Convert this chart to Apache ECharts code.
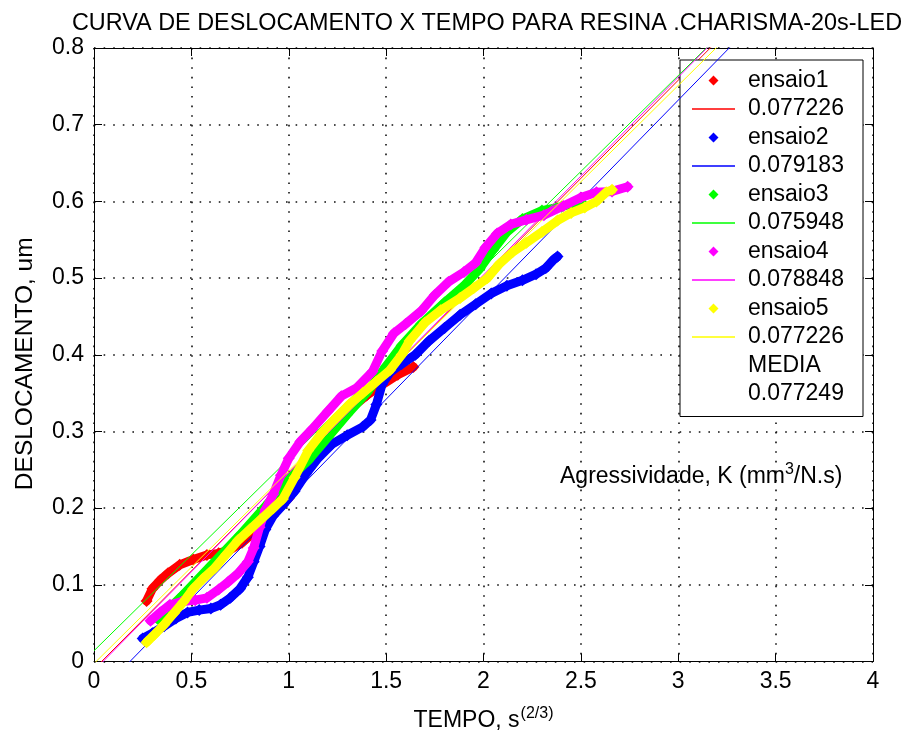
<!DOCTYPE html>
<html>
<head>
<meta charset="utf-8">
<script src="https://cdn.jsdelivr.net/npm/echarts@6/dist/echarts.min.js"></script>
<style>
  html, body { margin: 0; padding: 0; background: #fff; }
  #chart { width: 901px; height: 737px; }
</style>
</head>
<body>
<div id="chart"></div>
<script>
// measured curves (x = TEMPO, y = DESLOCAMENTO)
const ensaio1X = [0.27, 0.30, 0.34, 0.38, 0.44, 0.51, 0.58, 0.64, 0.70, 0.76, 0.82, 0.88, 0.94, 1.00, 1.06, 1.12, 1.20, 1.30, 1.40, 1.48, 1.56, 1.64];
const ensaio1Y = [0.079, 0.095, 0.106, 0.115, 0.126, 0.133, 0.139, 0.141, 0.146, 0.155, 0.168, 0.183, 0.198, 0.213, 0.240, 0.272, 0.300, 0.326, 0.347, 0.361, 0.374, 0.384];

const ensaio2X = [0.25, 0.30, 0.36, 0.42, 0.48, 0.54, 0.60, 0.65, 0.70, 0.75, 0.79, 0.82, 0.85, 0.88, 0.92, 0.97, 1.03, 1.09, 1.15, 1.22, 1.30, 1.38, 1.42, 1.45, 1.48, 1.52, 1.58, 1.65, 1.72, 1.80, 1.88, 1.96, 2.04, 2.12, 2.20, 2.27, 2.32, 2.36, 2.38];
const ensaio2Y = [0.030, 0.037, 0.046, 0.056, 0.064, 0.067, 0.069, 0.074, 0.083, 0.095, 0.110, 0.130, 0.150, 0.172, 0.190, 0.204, 0.222, 0.245, 0.265, 0.283, 0.295, 0.306, 0.315, 0.335, 0.362, 0.377, 0.388, 0.400, 0.418, 0.435, 0.452, 0.466, 0.480, 0.490, 0.497, 0.505, 0.513, 0.524, 0.528];

const ensaio3X = [0.33, 0.45, 0.60, 0.75, 0.90, 1.00, 1.10, 1.20, 1.30, 1.40, 1.50, 1.58, 1.68, 1.80, 1.90, 1.98, 2.05, 2.12, 2.20, 2.30, 2.40, 2.50];
const ensaio3Y = [0.055, 0.085, 0.125, 0.165, 0.208, 0.238, 0.262, 0.292, 0.322, 0.350, 0.385, 0.412, 0.440, 0.468, 0.490, 0.512, 0.537, 0.560, 0.577, 0.588, 0.593, 0.600];

const ensaio4X = [0.29, 0.34, 0.39, 0.45, 0.52, 0.58, 0.64, 0.69, 0.74, 0.79, 0.82, 0.85, 0.88, 0.92, 0.96, 1.00, 1.06, 1.12, 1.20, 1.27, 1.35, 1.43, 1.48, 1.54, 1.60, 1.68, 1.75, 1.82, 1.90, 1.96, 2.01, 2.07, 2.14, 2.22, 2.31, 2.41, 2.50, 2.58, 2.66, 2.74];
const ensaio4Y = [0.053, 0.064, 0.074, 0.078, 0.080, 0.083, 0.094, 0.104, 0.115, 0.130, 0.148, 0.175, 0.198, 0.218, 0.243, 0.265, 0.287, 0.303, 0.326, 0.346, 0.357, 0.378, 0.405, 0.428, 0.440, 0.457, 0.478, 0.495, 0.508, 0.520, 0.540, 0.558, 0.570, 0.576, 0.582, 0.594, 0.605, 0.612, 0.613, 0.619];

const ensaio5X = [0.27, 0.31, 0.36, 0.41, 0.46, 0.51, 0.56, 0.62, 0.68, 0.74, 0.80, 0.86, 0.92, 0.97, 1.03, 1.10, 1.17, 1.24, 1.31, 1.38, 1.45, 1.52, 1.58, 1.62, 1.70, 1.78, 1.88, 1.95, 2.02, 2.08, 2.15, 2.22, 2.30, 2.38, 2.45, 2.52, 2.58, 2.63, 2.66];
const ensaio5Y = [0.025, 0.035, 0.048, 0.063, 0.078, 0.095, 0.108, 0.122, 0.140, 0.158, 0.172, 0.186, 0.200, 0.212, 0.240, 0.275, 0.298, 0.317, 0.335, 0.350, 0.365, 0.380, 0.400, 0.418, 0.442, 0.458, 0.474, 0.487, 0.500, 0.518, 0.534, 0.546, 0.560, 0.575, 0.585, 0.592, 0.600, 0.612, 0.615];

// linear fits y = a + b*x
const fitNames = ['0.077226', '0.079183', '0.075948', '0.078848', '0.077226 '];
const fitSlope = [0.256, 0.260, 0.250, 0.258, 0.2513];
const fitIntercept = [-0.010, -0.048, 0.014, -0.012, -0.0027];
const fitRange = [0, 4];

const ensaioNames = ['ensaio1', 'ensaio2', 'ensaio3', 'ensaio4', 'ensaio5'];
const colors = ['#ff0000', '#0000ff', '#00ff00', '#ff00ff', '#ffff00'];
const mediaLabels = ['MEDIA', '0.077249'];

const xTicks = [0, 4, 0.5];
const yTicks = [0, 0.8, 0.1];

const ensaioX = [ensaio1X, ensaio2X, ensaio3X, ensaio4X, ensaio5X];
const ensaioY = [ensaio1Y, ensaio2Y, ensaio3Y, ensaio4Y, ensaio5Y];

const font = "'Liberation Sans', Arial, sans-serif";
// legend icons drawn in a 43x10 box: small diamond in the middle, thin line across
const diamondIcon = 'path://M0,5H0.01M16.5,5L21.5,0L26.5,5L21.5,10ZM43,5H42.99';
const lineIcon = 'path://M0,0H0.01M0,4.25H43V5.75H0ZM43,10H42.99';

const chart = echarts.init(document.getElementById('chart'));

const series = [];
const legendData = [];
ensaioNames.forEach((name, i) => {
  const pts = ensaioX[i].map((x, j) => [x, ensaioY[i][j]]);
  // thick band under the diamond markers (not in legend)
  series.push({
    name: name + '-band',
    type: 'line',
    data: pts,
    lineStyle: { width: 9, color: colors[i], join: 'round', cap: 'round' },
    showSymbol: false,
    silent: true,
    z: 2 + i * 2
  });
  series.push({
    name: name,
    type: 'scatter',
    data: pts,
    symbol: 'diamond',
    symbolSize: 12,
    itemStyle: { color: colors[i], opacity: 1 },
    silent: true,
    z: 2 + i * 2
  });
  series.push({
    name: fitNames[i],
    type: 'line',
    data: fitRange.map(x => [x, fitIntercept[i] + fitSlope[i] * x]),
    color: colors[i],
    lineStyle: { width: 1, color: colors[i] },
    showSymbol: false,
    clip: true,
    silent: true,
    z: 3 + i * 2
  });
  legendData.push({ name: name, icon: diamondIcon });
  legendData.push({ name: fitNames[i], icon: lineIcon });
});
mediaLabels.forEach(name => {
  series.push({ name: name, type: 'line', data: [] });
  legendData.push({ name: name, icon: 'none' });
});

const axisCommon = {
  type: 'value',
  axisLine: { show: true, onZero: false, lineStyle: { color: '#000', width: 1 } },
  axisTick: { show: true, inside: true, length: 8, lineStyle: { color: '#000' } },
  splitLine: { show: false }
};

chart.setOption({
  animation: false,
  textStyle: { fontFamily: font },
  title: {
    text: 'CURVA DE DESLOCAMENTO X TEMPO PARA RESINA .CHARISMA-20s-LED',
    left: 482,
    textAlign: 'center',
    top: 7,
    textStyle: { fontFamily: font, fontSize: 23.4, fontWeight: 'normal', color: '#000' }
  },
  grid: { left: 94, right: 28, top: 48, bottom: 73, containLabel: false },
  legend: {
    orient: 'vertical',
    left: 680,
    top: 60,
    padding: [9, 5, 11, 12],
    itemWidth: 43,
    itemHeight: 10,
    itemGap: 5.5,
    symbolKeepAspect: true,
    selectedMode: false,
    backgroundColor: '#fff',
    borderColor: '#000',
    borderWidth: 1,
    borderRadius: 0,
    textStyle: { fontFamily: font, fontSize: 23, color: '#000', padding: [0, 0, 0, 8], width: 110, lineHeight: 23 },
    data: legendData
  },
  xAxis: [
    Object.assign({}, axisCommon, {
      min: xTicks[0], max: xTicks[1], interval: xTicks[2],
      position: 'bottom',
      name: '{a|TEMPO, s}{b|(2/3)}',
      nameLocation: 'middle',
      nameGap: 44,
      nameTextStyle: {
        rich: {
          a: { fontFamily: font, fontSize: 23, color: '#000' },
          b: { fontFamily: font, fontSize: 16, color: '#000', padding: [0, 0, 14, 1] }
        }
      },
      axisLabel: { color: '#000', fontSize: 23, fontFamily: font, margin: 9 },
      splitLine: { show: true, lineStyle: { color: '#111', width: 1.6, type: [1.6, 8] } }
    }),
    Object.assign({}, axisCommon, {
      min: xTicks[0], max: xTicks[1], interval: xTicks[2],
      position: 'top',
      axisLabel: { show: false }
    })
  ],
  yAxis: [
    Object.assign({}, axisCommon, {
      min: yTicks[0], max: yTicks[1], interval: yTicks[2],
      position: 'left',
      name: 'DESLOCAMENTO, um',
      nameLocation: 'middle',
      nameGap: 56,
      nameTextStyle: { fontFamily: font, fontSize: 24.5, color: '#000', padding: [0, 18, 0, 0] },
      axisLabel: { color: '#000', fontSize: 23, fontFamily: font, margin: 10 },
      splitLine: { show: true, lineStyle: { color: '#111', width: 1.6, type: [1.6, 8] } }
    }),
    Object.assign({}, axisCommon, {
      min: yTicks[0], max: yTicks[1], interval: yTicks[2],
      position: 'right',
      axisLabel: { show: false }
    })
  ],
  graphic: [{
    type: 'text',
    left: 560,
    top: 462,
    z: 10,
    style: {
      text: '{a|Agressividade, K (mm}{s|3}{a|/N.s)}',
      rich: {
        a: { fontFamily: font, fontSize: 23, fill: '#000' },
        s: { fontFamily: font, fontSize: 16, fill: '#000', padding: [0, 0, 14, 0] }
      }
    }
  }],
  series: series
});
</script>
</body>
</html>
